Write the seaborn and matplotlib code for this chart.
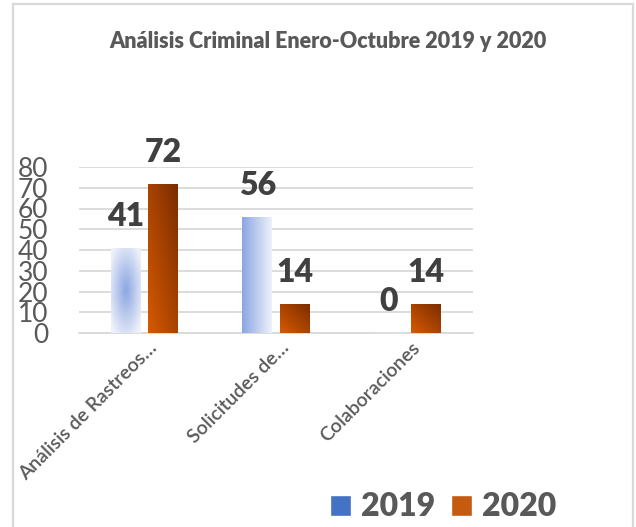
import numpy as np
import pandas as pd
import matplotlib
matplotlib.use("Agg")
import matplotlib.pyplot as plt
import matplotlib.transforms as mtransforms
import seaborn as sns
from matplotlib.patches import Rectangle
from matplotlib.colors import LinearSegmentedColormap

# ---- data ----
categories = ["Análisis de Rastreos…", "Solicitudes de…", "Colaboraciones"]
years = ["2019", "2020"]
values_2019 = [41, 56, 0]
values_2020 = [72, 14, 14]
y_ticks = [0, 10, 20, 30, 40, 50, 60, 70, 80]
title = "Análisis Criminal Enero-Octubre 2019 y 2020"

df = pd.DataFrame({
    "categoria": categories * 2,
    "año": [years[0]] * len(categories) + [years[1]] * len(categories),
    "valor": values_2019 + values_2020,
})

sns.set_theme(style="white")
plt.rcParams["font.family"] = ["Lato", "DejaVu Sans"]

W, H = 636, 527
fig = plt.figure(figsize=(W / 100, H / 100), dpi=100)
ax = fig.add_axes([79 / W, (H - 333) / H, (473 - 79) / W, (333 - 167) / H])

palette = {"2019": "#4472C4", "2020": "#C55A11"}
sns.barplot(data=df, x="categoria", y="valor", hue="año", palette=palette,
            width=0.571, gap=0.2, saturation=1, ax=ax, legend=True)

ax.set_ylim(0, 80)
ax.set_yticks(y_ticks)
ax.set_xlabel("")
ax.set_ylabel("")
sns.despine(ax=ax, left=True, bottom=True)
ax.yaxis.grid(True, color="#d9d9d9", lw=1.3)
ax.set_axisbelow(True)
ax.axhline(0, color="#d9d9d9", lw=1.3, clip_on=False, zorder=0.5)

ax.tick_params(axis="y", length=0, pad=22, labelsize=19, labelcolor="#595959")
ax.tick_params(axis="x", length=0, pad=3, labelsize=14, labelcolor="#595959")
shift = mtransforms.ScaledTranslation(4 / 100, -2 / 100, fig.dpi_scale_trans)
for lab in ax.get_xticklabels():
    lab.set_rotation(45)
    lab.set_ha("right")
    lab.set_rotation_mode("anchor")
    lab.set_fontweight("semibold")
    lab.set_transform(lab.get_transform() + shift)

# ---- gradients ----
blue_cmap = LinearSegmentedColormap.from_list("b", ["#8ba6e2", "#eef1fa"])
orange_cmap = LinearSegmentedColormap.from_list("o", ["#d65a00", "#7a2c00"])
n = 120
u = np.linspace(0, 1, n)[None, :]
v = np.linspace(0, 1, n)[:, None]
blue_styles = ["radial", "horizontal", "horizontal"]

xlim = ax.get_xlim()
for ci, cont in enumerate(ax.containers):
    for bi, patch in enumerate(cont.patches):
        x0, y0 = patch.get_x(), patch.get_y()
        w, h = patch.get_width(), patch.get_height()
        if h <= 0:
            continue
        if ci == 0:
            if blue_styles[bi] == "radial":
                t = np.clip(np.sqrt((u - 0.5) ** 2 + (v - 0.5) ** 2) / 0.62, 0, 1)
            else:
                t = u + 0 * v
            img = blue_cmap(t)
        else:
            t = (u + v) / 2
            img = orange_cmap(t)
        im = ax.imshow(img, extent=[x0, x0 + w, y0, y0 + h], origin="lower",
                       aspect="auto", zorder=patch.get_zorder(), interpolation="bilinear")
        im.set_clip_path(patch)
        patch.set_facecolor("none")
        patch.set_edgecolor("none")
ax.set_xlim(xlim)
ax.set_ylim(0, 80)

for cont in ax.containers:
    ax.bar_label(cont, fontsize=23, fontweight="heavy", color="#404040",
                 padding=12, clip_on=False)

sns.move_legend(ax, "center", bbox_to_anchor=(443 / W, 20 / H),
                bbox_transform=fig.transFigure, ncol=2, frameon=False, title=None,
                prop={"size": 23, "weight": "heavy"}, handlelength=0.66, handleheight=0.66,
                handletextpad=0.31, columnspacing=0.5)
leg = ax.get_legend()
for t in leg.get_texts():
    t.set_color("#595959")

fig.text(0.515, 1 - 41 / H, title, ha="center", va="center", fontsize=15.5,
         fontweight="heavy", color="#595959")

frame = Rectangle((13 / W, -0.05), (633 - 13) / W, 1.05 - 3.5 / H,
                  transform=fig.transFigure, fill=False, edgecolor="#d9d9d9",
                  lw=1.6, zorder=-1)
fig.patches.append(frame)

fig.savefig("out.png", dpi=100)
